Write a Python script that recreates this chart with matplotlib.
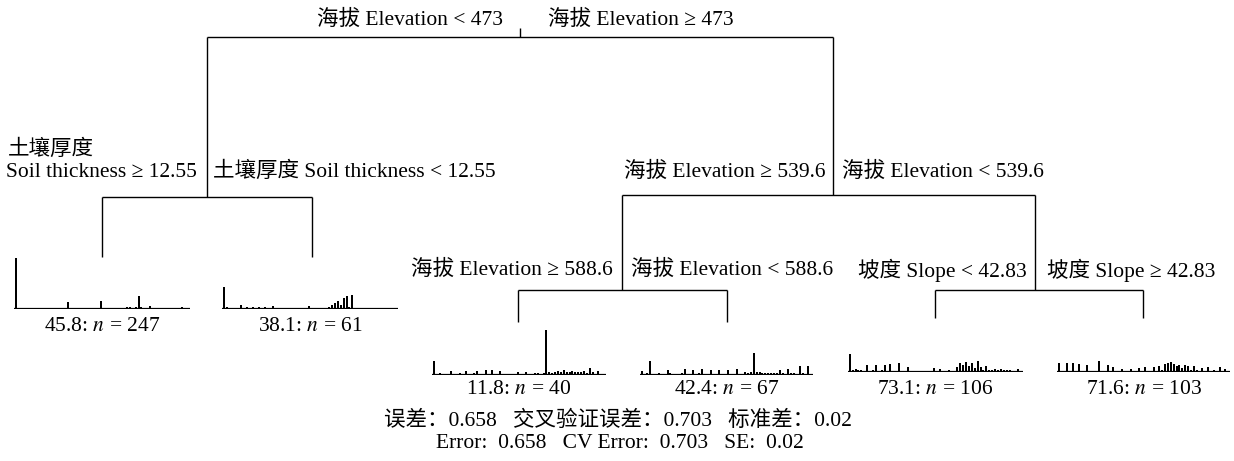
import numpy as np
import matplotlib
matplotlib.use("agg")
from matplotlib import pyplot as plt

plt.rcParams['font.family'] = ['Liberation Serif', 'Noto Sans CJK SC', 'DejaVu Serif']
plt.rcParams['mathtext.fontset'] = 'stix'

# split labels (left branch, right branch)
split_labels = {
    "root": ("海拔 Elevation < 473", "海拔 Elevation ≥ 473"),
    "soil": ("Soil thickness ≥ 12.55", "土壤厚度 Soil thickness < 12.55"),
    "elev1": ("海拔 Elevation ≥ 539.6", "海拔 Elevation < 539.6"),
    "elev2": ("海拔 Elevation ≥ 588.6", "海拔 Elevation < 588.6"),
    "slope": ("坡度 Slope < 42.83", "坡度 Slope ≥ 42.83"),
}

# leaf summaries: deviance and n
leaf_dev = [45.8, 38.1, 11.8, 42.4, 73.1, 71.6]
leaf_n = [247, 61, 40, 67, 106, 103]

# species bar heights per leaf (same scale)
leaf1 = [100, 1, 0, 1, 0, 2, 0, 0, 1, 0, 0, 1, 0, 0, 1, 0, 1, 0, 14, 1,
         0, 0, 0, 0, 0, 0, 0, 0, 1, 16, 2, 0, 0, 0, 0, 0, 0, 2, 3, 3,
         2, 4, 25, 3, 2, 0, 5, 0, 0, 0, 0, 1, 1, 1, 1, 0, 2, 4, 1, 0]
leaf2 = [43, 4, 2, 1, 1, 1, 8, 2, 3, 1, 4, 1, 3, 1, 3, 2, 0, 6, 1, 0,
         0, 0, 0, 0, 0, 0, 0, 0, 0, 6, 1, 0, 0, 0, 0, 0, 3, 8, 12, 16,
         8, 22, 26, 4, 27, 2, 2, 2, 2, 1, 1, 1, 1, 1, 1, 1, 1, 1, 2, 1]
leaf3 = [28, 2, 3, 1, 2, 1, 8, 2, 1, 3, 1, 8, 2, 1, 3, 8, 2, 1, 9, 2,
         10, 2, 1, 8, 2, 1, 2, 0, 1, 5, 1, 1, 5, 2, 1, 4, 3, 2, 4, 88,
         5, 4, 6, 8, 6, 9, 6, 5, 7, 5, 6, 5, 8, 4, 14, 6, 2, 8, 2, 1]
leaf4 = [8, 2, 3, 28, 1, 2, 3, 1, 2, 10, 3, 1, 2, 1, 4, 12, 2, 1, 10, 2,
         3, 12, 1, 2, 10, 1, 2, 10, 2, 1, 10, 2, 1, 11, 2, 2, 6, 4, 5, 43,
         6, 5, 4, 4, 3, 4, 4, 3, 10, 3, 2, 12, 3, 4, 2, 18, 3, 2, 18, 2]
leaf5 = [35, 3, 5, 3, 4, 2, 14, 2, 3, 14, 2, 3, 14, 2, 16, 2, 2, 18, 2, 1,
         10, 1, 1, 2, 1, 1, 1, 1, 1, 8, 1, 5, 1, 1, 4, 1, 2, 10, 18, 14,
         20, 12, 18, 8, 22, 10, 4, 12, 3, 4, 6, 3, 5, 4, 3, 4, 2, 2, 5, 1]
leaf6 = [18, 2, 1, 18, 2, 18, 2, 16, 2, 2, 14, 2, 1, 2, 22, 2, 1, 14, 1, 10,
         1, 1, 6, 1, 1, 5, 1, 1, 8, 1, 10, 1, 1, 10, 1, 12, 4, 16, 18, 20,
         16, 12, 14, 8, 14, 12, 4, 12, 3, 2, 8, 2, 10, 2, 4, 2, 10, 2, 6, 1]
leaf_bars = [leaf1, leaf2, leaf3, leaf4, leaf5, leaf6]

W, H = 1234, 461
fig = plt.figure(figsize=(W / 100, H / 100), dpi=100)
ax = fig.add_axes([0, 0, 1, 1])
ax.set_xlim(0, W)
ax.set_ylim(H, 0)
ax.axis("off")

lw = 1.0
fs = 15.5


def seg(x0, y0, x1, y1):
    ax.plot([x0, x1], [y0, y1], color="black", lw=lw, solid_capstyle="butt")


def split(x, y_top, y_bar, xl, xr, y_l, y_r):
    seg(x, y_top, x, y_bar)
    seg(xl, y_bar, xr, y_bar)
    seg(xl, y_bar, xl, y_l)
    seg(xr, y_bar, xr, y_r)


# tree skeleton
split(520, 28, 37, 207, 833, 197, 195)
split(207, 197, 197, 102, 312, 257, 257)
split(833, 195, 195, 622, 1035, 290, 290)
split(622, 290, 290, 518, 727, 322, 322)
split(1035, 290, 290, 935, 1143, 318, 318)

# split labels
def labels(key, x, y, gap_l, gap_r):
    l, r = split_labels[key]
    ax.text(x - gap_l, y, l, ha="right", va="center", fontsize=fs)
    ax.text(x + gap_r, y, r, ha="left", va="center", fontsize=fs)

labels("root", 520, 20, 17, 28)
labels("soil", 207, 172, 10, 6)
ax.text(8, 150, "土壤厚度", ha="left", va="center", fontsize=fs)
labels("elev1", 833, 172, 8, 9)
labels("elev2", 622, 270, 9, 9)
labels("slope", 1035, 270, 8, 12)

# leaf histograms
leaf_x = [(14, 190), (222, 398), (432, 606), (640, 813), (848, 1023), (1057, 1230)]
leaf_base = [309, 309, 375, 375, 372, 372]
leaf_label_y = [326, 326, 389, 389, 389, 389]
full_px = 51  # pixel height of 100 units

for bars, (x0, x1), yb, yl, dev, n in zip(leaf_bars, leaf_x, leaf_base, leaf_label_y, leaf_dev, leaf_n):
    hax = fig.add_axes([x0 / W, 1 - yb / H, (x1 - x0) / W, full_px / H])
    idx = np.arange(len(bars))
    hax.bar(idx, bars, width=0.7, color="black")
    hax.set_xlim(-0.6, len(bars) - 0.4)
    hax.set_ylim(0, 100)
    hax.axhline(0, color="black", lw=1.6)
    hax.axis("off")
    ax.text((x0 + x1) / 2, yl, f"{dev}: $n$ = {n}", ha="center", va="center", fontsize=fs)

# footer
ax.text(618, 421, "误差：0.658   交叉验证误差：0.703   标准差：0.02",
        ha="center", va="center", fontsize=fs)
ax.text(620, 443, "Error:  0.658   CV Error:  0.703   SE:  0.02",
        ha="center", va="center", fontsize=fs)

fig.savefig("out.png", dpi=100)
